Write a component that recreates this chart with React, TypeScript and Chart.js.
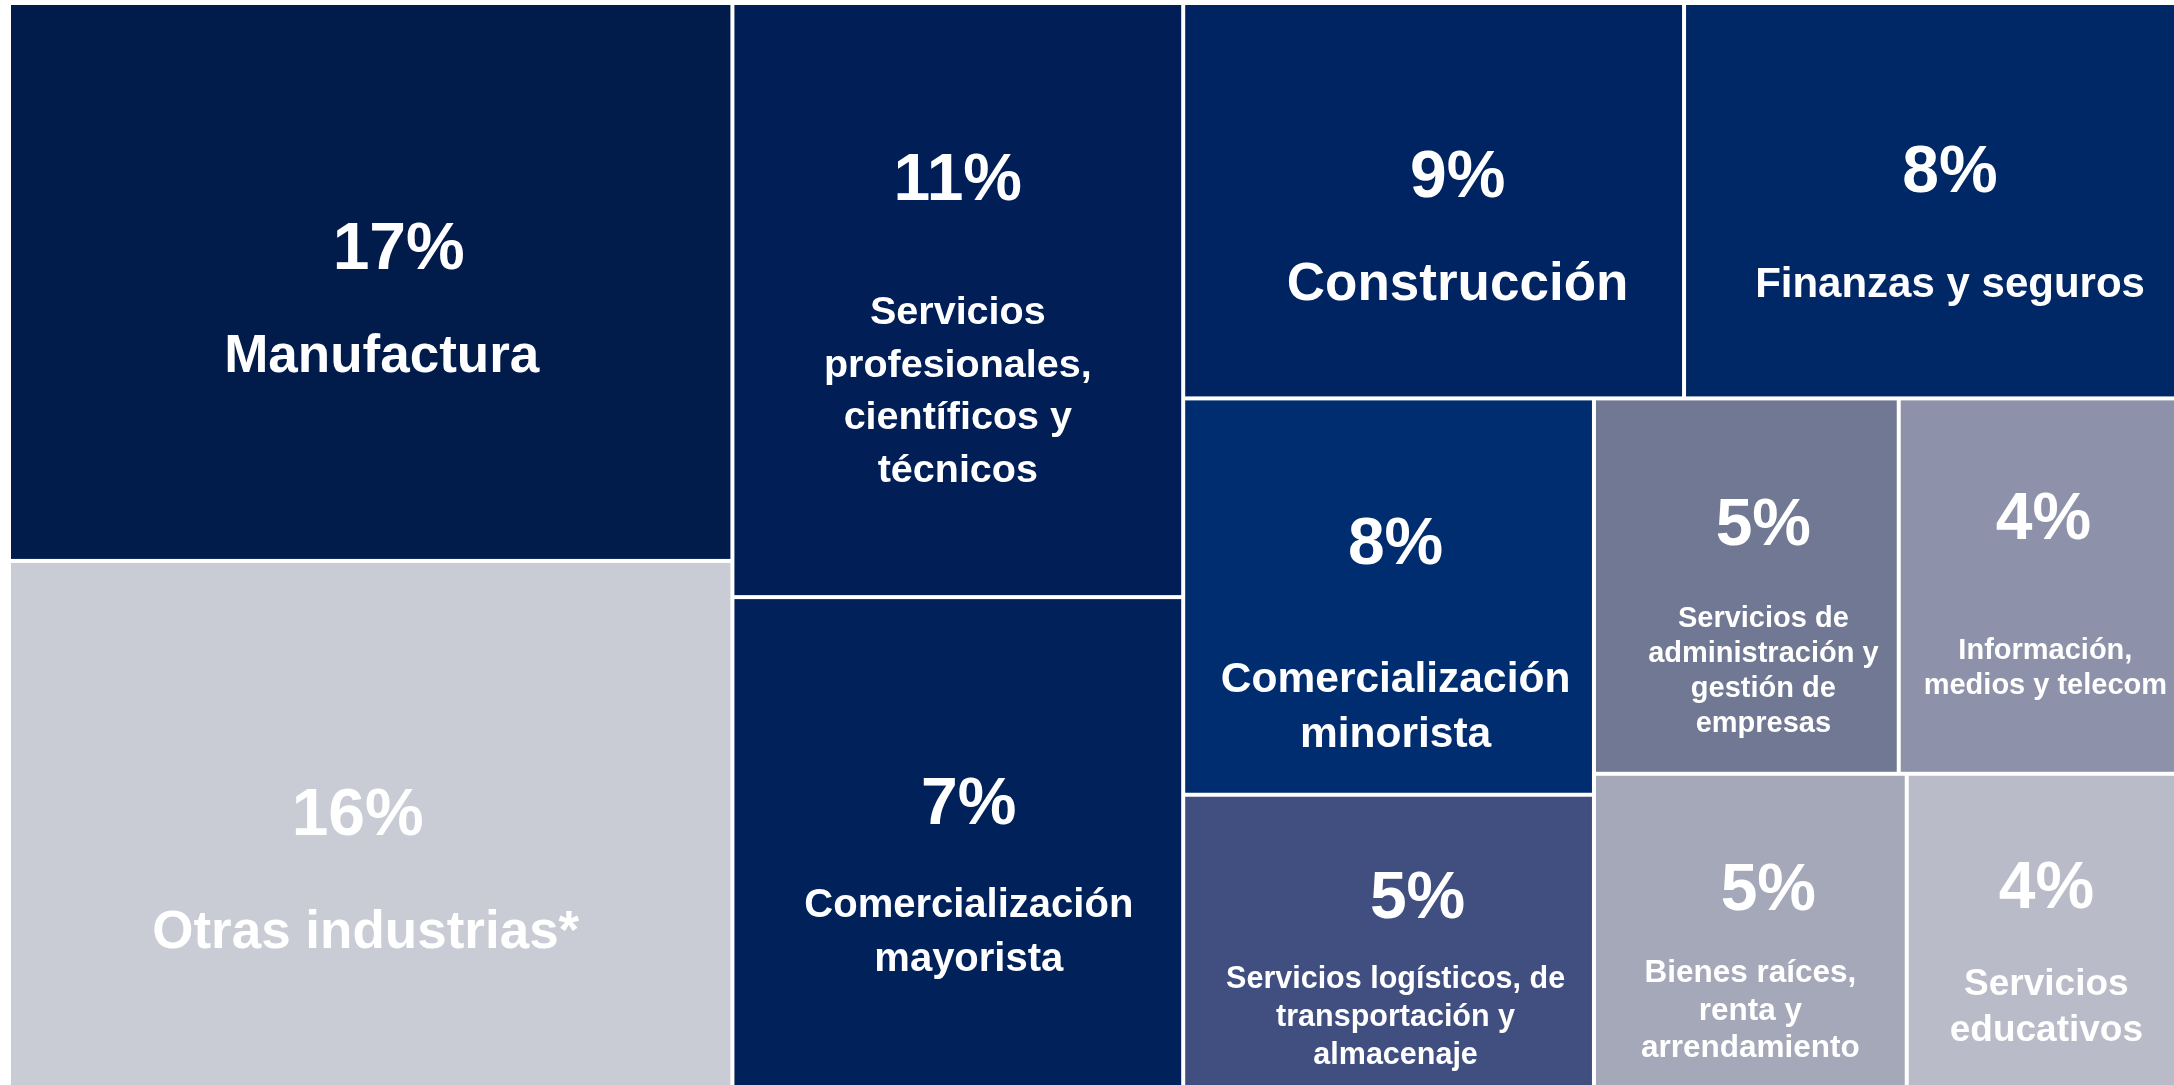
import React, { useEffect, useRef } from 'react';
import { Chart, registerables } from 'chart.js';

Chart.register(...registerables);

// ---- data ----
const sectors = [
  'Manufactura',
  'Otras industrias*',
  'Servicios profesionales, científicos y técnicos',
  'Comercialización mayorista',
  'Construcción',
  'Finanzas y seguros',
  'Comercialización minorista',
  'Servicios logísticos, de transportación y almacenaje',
  'Servicios de administración y gestión de empresas',
  'Información, medios y telecom',
  'Bienes raíces, renta y arrendamiento',
  'Servicios educativos',
];
// share shown in each cell (%)
const shareLabels = [17, 16, 11, 7, 9, 8, 8, 5, 5, 4, 5, 4];
// relative cell area (% of treemap area)
const cellAreas = [17.18, 16.2, 11.4, 9.4, 8.43, 8.28, 6.93, 5.11, 4.87, 4.43, 4.17, 3.59];
// label text as broken into lines in the picture
const labelLines = [
  ['Manufactura'],
  ['Otras industrias*'],
  ['Servicios', 'profesionales,', 'científicos y', 'técnicos'],
  ['Comercialización', 'mayorista'],
  ['Construcción'],
  ['Finanzas y seguros'],
  ['Comercialización', 'minorista'],
  ['Servicios logísticos, de', 'transportación y', 'almacenaje'],
  ['Servicios de', 'administración y', 'gestión de', 'empresas'],
  ['Información,', 'medios y telecom'],
  ['Bienes raíces,', 'renta y', 'arrendamiento'],
  ['Servicios', 'educativos'],
];

// ---- nesting of the treemap (indices into the arrays above) ----
type TNode = number | { dir: 'h' | 'v'; children: TNode[] };
const layoutTree: TNode = {
  dir: 'h',
  children: [
    { dir: 'v', children: [0, 1] },
    { dir: 'v', children: [2, 3] },
    {
      dir: 'v',
      children: [
        { dir: 'h', children: [4, 5] },
        {
          dir: 'h',
          children: [
            { dir: 'v', children: [6, 7] },
            {
              dir: 'v',
              children: [
                { dir: 'h', children: [8, 9] },
                { dir: 'h', children: [10, 11] },
              ],
            },
          ],
        },
      ],
    },
  ],
};

// ---- styles ----
const cellColors = [
  '#011B4B', '#C9CCD4', '#011F56', '#01215B', '#002361', '#002766',
  '#002C70', '#414E80', '#717893', '#8D91A9', '#A5A8B8', '#B9BBC8',
];
const FONT = '"Liberation Sans", Arial, Helvetica, sans-serif';
const percentSize = 66;
const labelSize = [53, 53, 39.5, 40, 53, 42, 42.5, 30.5, 29, 29, 31.5, 37];
const lineGap = [0, 0, 52.7, 54, 0, 0, 55, 38, 35, 35, 37.5, 46];
const percentY = [0.4765, 0.521, 0.3305, 0.463, 0.49, 0.477, 0.417, 0.422, 0.389, 0.373, 0.435, 0.429];
const labelY = [0.6625, 0.7375, 0.5407, 0.654, 0.7526, 0.745, 0.744, 0.664, 0.6108, 0.696, 0.668, 0.71];
const percentDx = [28, -13, 0, 11, 24, 20, 7, 29, 17, 6, 18, 5];
const labelDx = [11, -5, 0, 11, 24, 20, 7, 7, 17, 8, 0, 5];
const GAP = 2;

type Rect = { x0: number; y0: number; x1: number; y1: number };

function nodeSum(n: TNode): number {
  if (typeof n === 'number') return cellAreas[n];
  return n.children.reduce((s, c) => s + nodeSum(c), 0);
}

function layout(n: TNode, r: Rect, out: Rect[]) {
  if (typeof n === 'number') {
    out[n] = r;
    return;
  }
  const total = nodeSum(n);
  let pos = n.dir === 'h' ? r.x0 : r.y0;
  for (const c of n.children) {
    const f = nodeSum(c) / total;
    if (n.dir === 'h') {
      const w = (r.x1 - r.x0) * f;
      layout(c, { x0: pos, y0: r.y0, x1: pos + w, y1: r.y1 }, out);
      pos += w;
    } else {
      const h = (r.y1 - r.y0) * f;
      layout(c, { x0: r.x0, y0: pos, x1: r.x1, y1: pos + h }, out);
      pos += h;
    }
  }
}

const rects: Rect[] = [];
layout(layoutTree, { x0: 0, y0: 0, x1: 100, y1: 100 }, rects);

const treemapPlugin = {
  id: 'treemapCells',
  afterDatasetsDraw(chart: any) {
    const ctx = chart.ctx;
    const xs = chart.scales.x;
    const ys = chart.scales.y;
    ctx.save();
    rects.forEach((r, i) => {
      const left = xs.getPixelForValue(r.x0) + GAP;
      const right = xs.getPixelForValue(r.x1) - GAP;
      const top = ys.getPixelForValue(r.y0) + GAP;
      const bottom = ys.getPixelForValue(r.y1) - GAP;
      const w = right - left;
      const h = bottom - top;
      ctx.fillStyle = cellColors[i];
      ctx.fillRect(left, top, w, h);

      const cx = left + w / 2;
      ctx.fillStyle = '#FFFFFF';
      ctx.textAlign = 'center';
      ctx.textBaseline = 'alphabetic';
      ctx.font = `bold ${percentSize}px ${FONT}`;
      ctx.fillText(`${shareLabels[i]}%`, cx + percentDx[i], top + percentY[i] * h);

      ctx.font = `bold ${labelSize[i]}px ${FONT}`;
      const y0 = top + labelY[i] * h;
      labelLines[i].forEach((line, k) => {
        ctx.fillText(line, cx + labelDx[i], y0 + k * lineGap[i]);
      });
    });
    ctx.restore();
  },
};

export default function App() {
  const ref = useRef<HTMLCanvasElement | null>(null);

  useEffect(() => {
    document.body.style.margin = '0';
    const canvas = ref.current;
    if (!canvas) return;
    const chart = new Chart(canvas, {
      type: 'scatter',
      data: {
        labels: sectors,
        datasets: [
          {
            label: 'Participación',
            data: rects.map((r, i) => ({ x: (r.x0 + r.x1) / 2, y: (r.y0 + r.y1) / 2, v: cellAreas[i] })),
            pointRadius: 0,
            pointHoverRadius: 0,
          },
        ],
      },
      options: {
        responsive: false,
        animation: false,
        devicePixelRatio: 1,
        layout: { padding: { left: 9, top: 3, right: 0, bottom: 0 } },
        scales: {
          x: { type: 'linear', min: 0, max: 100, display: false },
          y: { type: 'linear', min: 0, max: 100, reverse: true, display: false },
        },
        plugins: {
          legend: { display: false },
          tooltip: { enabled: false },
          title: { display: false },
        },
      },
      plugins: [treemapPlugin],
    } as any);
    return () => chart.destroy();
  }, []);

  return (
    <div
      style={{
        position: 'fixed',
        left: 0,
        top: 0,
        width: 2174,
        height: 1085,
        overflow: 'hidden',
        background: '#FFFFFF',
      }}
    >
      <canvas ref={ref} width={2176} height={1087} style={{ display: 'block' }} />
    </div>
  );
}
